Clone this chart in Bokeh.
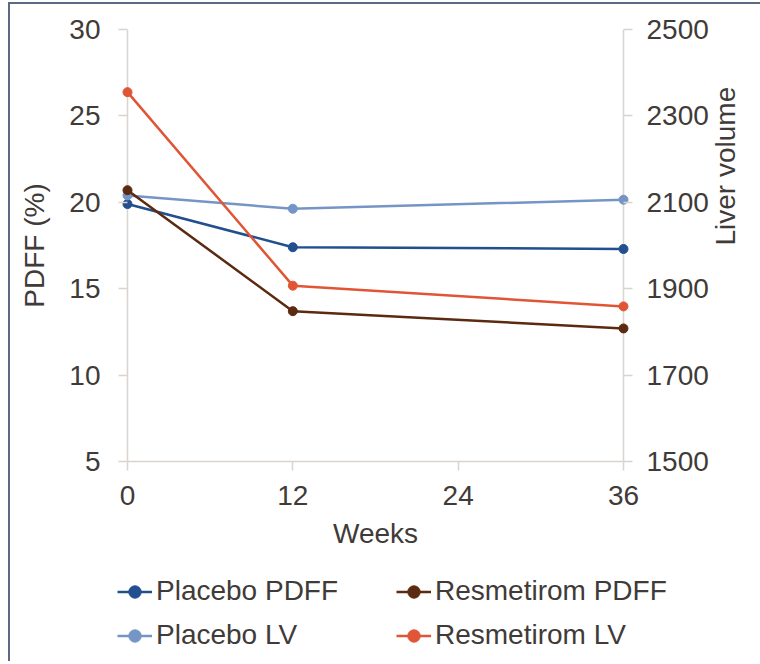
import math

from bokeh.plotting import figure
from bokeh.models import Range1d, LinearAxis, Legend, LegendItem, FixedTicker, Span
from bokeh.embed import file_html
from bokeh.resources import INLINE

# Study visits (weeks) and group means
weeks = [0, 12, 36]
placebo_pdff = [19.9, 17.4, 17.3]
resmetirom_pdff = [20.7, 13.7, 12.7]
placebo_lv = [2116, 2085, 2106]
resmetirom_lv = [2355, 1907, 1859]

# Tick positions
week_ticks = [0, 12, 24, 36]
pdff_ticks = [5, 10, 15, 20, 25, 30]
lv_ticks = [1500, 1700, 1900, 2100, 2300, 2500]

FONT = "Liberation Sans"
TEXT = "#403b38"
AXIS = "#d9d4cf"
EDGE = "2px solid #5b6a80"
FS = "28px"

# 9 px of padding on each side so the end markers are not clipped by the frame;
# the y-axis ticks point inward across that padding, to the axis lines at 0 and 36
pad = 9 * 36 / 496

p = figure(
    frame_width=514, frame_height=432,
    x_range=Range1d(-pad, 36 + pad), y_range=Range1d(5, 30),
    output_backend="svg", toolbar_location=None,
    min_border_left=108, min_border_top=25, min_border_right=128, min_border_bottom=105,
    background_fill_color="white", border_fill_color="white",
)
p.margin = (2, 0, 0, 8)
p.styles = {"border-left": EDGE, "border-top": EDGE}
p.extra_y_ranges = {"lv": Range1d(1500, 2500)}
p.outline_line_color = None
p.grid.visible = False


def style_axis(ax):
    ax.axis_line_color = AXIS
    ax.axis_line_width = 1.5
    ax.major_tick_line_color = AXIS
    ax.major_tick_line_width = 1.5
    ax.major_tick_out = 9
    ax.major_tick_in = 0
    ax.minor_tick_line_color = None
    ax.major_label_text_font = FONT
    ax.major_label_text_font_size = FS
    ax.major_label_text_color = TEXT
    ax.axis_label_text_font = FONT
    ax.axis_label_text_font_size = FS
    ax.axis_label_text_color = TEXT
    ax.axis_label_text_font_style = "normal"


xa = p.xaxis[0]
style_axis(xa)
xa.ticker = FixedTicker(ticks=week_ticks)
xa.bounds = (0, 36)
xa.axis_label = "Weeks"
xa.major_label_standoff = 15
xa.axis_label_standoff = 10

ya = p.yaxis[0]
style_axis(ya)
ya.ticker = FixedTicker(ticks=pdff_ticks)
ya.axis_line_color = None
ya.major_tick_out = 0
ya.major_tick_in = 9
ya.axis_label = "PDFF (%)"
ya.major_label_standoff = 18
ya.axis_label_standoff = 16

# right axis: ticks and tick labels for liver volume
ra = LinearAxis(y_range_name="lv")
style_axis(ra)
ra.ticker = FixedTicker(ticks=lv_ticks)
ra.axis_line_color = None
ra.major_tick_out = 0
ra.major_tick_in = 9
ra.major_label_standoff = 14
p.add_layout(ra, "right")

# right axis title, reading bottom-to-top; a rotated title starts at the middle of
# the axis bounds, so the bounds are set to start it low enough to sit centred
rt = LinearAxis(y_range_name="lv", ticker=FixedTicker(ticks=[]), bounds=(1500, 2138))
style_axis(rt)
rt.axis_line_color = None
rt.major_tick_out = 0
rt.major_label_standoff = 0
rt.axis_label = "Liver volume"
rt.axis_label_standoff = 14
rt.axis_label_orientation = math.pi / 2
p.add_layout(rt, "right")

# vertical axis lines at week 0 and week 36
for loc in (0, 36):
    p.add_layout(Span(location=loc, dimension="height", line_color=AXIS,
                      line_width=1.5, level="underlay"))

series = [
    ("Placebo PDFF", placebo_pdff, "#214f8f", "default"),
    ("Placebo LV", placebo_lv, "#7595c6", "lv"),
    ("Resmetirom PDFF", resmetirom_pdff, "#5b2a10", "default"),
    ("Resmetirom LV", resmetirom_lv, "#e05535", "lv"),
]

for name, vals, color, rng in series:
    p.line(weeks, vals, line_color=color, line_width=2.5, y_range_name=rng)
    p.scatter(weeks, vals, marker="circle", size=9, fill_color=color,
              line_color=color, y_range_name=rng)

# legend strip under the chart; its renderers carry the same series, but the
# strip's y range lies below all values, so only the legend swatches show
lg = figure(
    width=750, height=95, x_range=Range1d(0, 36), y_range=Range1d(0, 1),
    output_backend="svg", toolbar_location=None, min_border=0,
    x_axis_location=None, y_axis_location=None,
    background_fill_color="white", border_fill_color="white",
)
lg.margin = (0, 0, 0, 8)
lg.styles = {"border-left": EDGE}
lg.outline_line_color = None
lg.grid.visible = False

items = []
for name, vals, color, rng in series:
    ln = lg.line(weeks, vals, line_color=color, line_width=2.5)
    pt = lg.scatter(weeks, vals, marker="circle", size=8, fill_color=color, line_color=color)
    items.append(LegendItem(label=name, renderers=[ln, pt]))

legend = Legend(
    items=items, orientation="vertical", nrows=2,
    location=(107, 10),
    label_text_font=FONT, label_text_font_size=FS, label_text_color=TEXT,
    glyph_width=35, glyph_height=31, label_standoff=4, label_width=228,
    spacing=12, padding=0, margin=0,
    border_line_color=None, background_fill_color=None,
)
lg.add_layout(legend, "center")

open("out.html", "w").write(file_html([p, lg], INLINE))
